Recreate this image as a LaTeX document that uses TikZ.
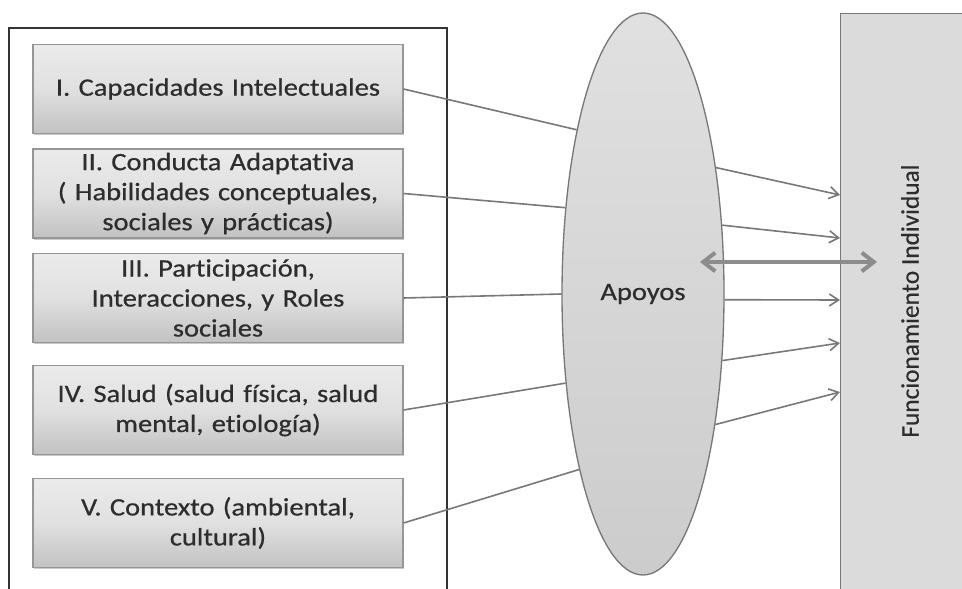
\documentclass[tikz,border=0pt]{standalone}
\usepackage{fontspec}
\setmainfont{Carlito}[FakeStretch=1.14, FakeBold=0.6, Ligatures=NoCommon]
\newfontfamily\sidefont{Carlito}[FakeBold=0.4, Ligatures=NoCommon]
\usetikzlibrary{shapes.geometric,arrows.meta,shadows}

\definecolor{txt}{RGB}{45,45,45}
\definecolor{wire}{RGB}{120,120,120}
\definecolor{edge}{RGB}{150,150,150}

\tikzset{
  factor/.style={draw=edge, line width=0.8pt,
    top color=black!8, bottom color=black!24, middle color=black!12,
    minimum width=277.5pt, minimum height=66.75pt, inner sep=0pt,
    text width=270pt, align=center, text=txt,
    font=\fontsize{18.75pt}{22.5pt}\selectfont,
    drop shadow={shadow xshift=0.8pt, shadow yshift=-1.2pt, fill=black!35, opacity=0.6}},
  support/.style={ellipse, draw=wire, line width=1pt, top color=black!12, bottom color=black!20,
    minimum width=121.5pt, minimum height=421.5pt, inner sep=0pt, text=txt,
    font=\fontsize{18.75pt}{22.5pt}\selectfont},
  outcome/.style={draw=wire, line width=1pt, fill=black!14,
    minimum width=150pt, minimum height=470pt, inner sep=0pt},
  link/.style={draw=wire, line width=1.2pt},
  feed/.style={draw=wire, line width=1.2pt, -{Straight Barb[length=7pt,width=9pt]}},
  mutual/.style={draw=black!45, line width=3pt,
    {Straight Barb[length=9pt,width=14pt]}-{Straight Barb[length=9pt,width=14pt]}}
}

\begin{document}
\begin{tikzpicture}[x=0.75pt,y=-0.75pt]
\useasboundingbox (0,0) rectangle (962,588);
\clip (0,0) rectangle (962,588);

% outer frame holding the five dimensions (runs off the lower edge)
\draw[line width=1.6pt, draw=black!80] (9,640) -- (9,28) -- (447,28) -- (447,640);

% the five dimensions
\node[factor] (d1) at (218,89)    {I. Capacidades Intelectuales};
\node[factor] (d2) at (218,193.5) {II. Conducta Adaptativa\\( Habilidades conceptuales,\\sociales y prácticas)};
\node[factor] (d3) at (218,298)   {III. Participación,\\Interacciones, y Roles\\sociales};
\node[factor] (d4) at (218,410)   {IV. Salud (salud física, salud\\mental, etiología)};
\node[factor] (d5) at (218,523)   {V. Contexto (ambiental,\\cultural)};

% supports
\node[support] (ap) at (643,294) {Apoyos};

% individual functioning (runs off the right and lower edges)
\node[outcome, anchor=north west] (fi) at (840,13) {};
\node[rotate=90, text=txt, font=\sidefont\fontsize{19pt}{23pt}\selectfont] (fil) at (910,301) {Funcionamiento Individual};

% dimensions into supports
\draw[link] (d1.east) -- (ap.112.6);
\draw[link] (d2.east) -- (ap.132.5);
\draw[link] (d3.east) -- (ap.180.8);
\draw[link] (d4.east) -- (ap.229.9);
\draw[link] (d5.east) -- (ap.250.3);

% supports into individual functioning
\coordinate (t1) at (840,195);
\coordinate (t2) at (840,238);
\coordinate (t3) at (840,300);
\coordinate (t4) at (840,343);
\coordinate (t5) at (840,392);
\draw[feed] (ap.60.3)  -- (t1);
\draw[feed] (ap.41.3)  -- (t2);
\draw[feed] (ap.-4)    -- (t3);
\draw[feed] (ap.-40)   -- (t4);
\draw[feed] (ap.-61.8) -- (t5);

% two-way relation
\coordinate (ml) at (700,262);
\coordinate (mr) at (877,262);
\draw[mutual] (ml) -- (mr);
\end{tikzpicture}
\end{document}
